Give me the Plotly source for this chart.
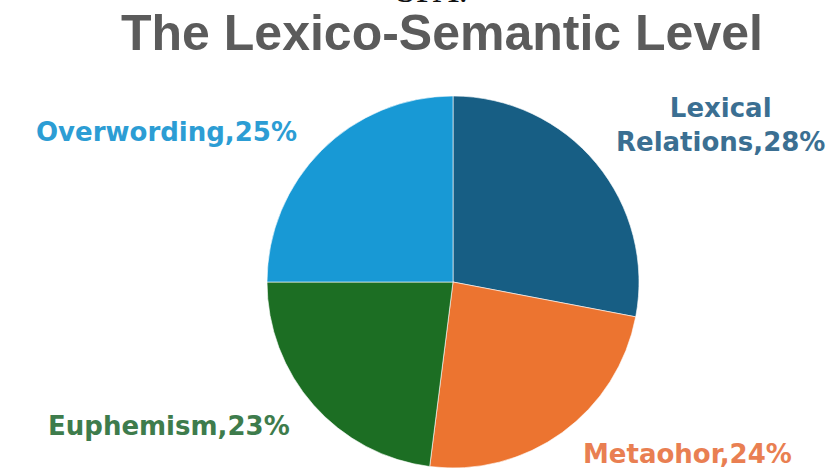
import plotly.graph_objects as go

categories = ["Lexical Relations", "Metaohor", "Euphemism", "Overwording"]
values = [28, 24, 23, 25]
slice_colors = ["#175e84", "#ec7430", "#1c6e23", "#1899d5"]
label_colors = ["#3b6f92", "#e97f52", "#3e7c4c", "#2c9dd4"]
label_texts = ["Lexical<br>Relations,28%", "Metaohor,24%", "Euphemism,23%", "Overwording,25%"]

W, H = 831, 470

def px(x):
    return x / W

def py(y):
    return 1 - y / H

fig = go.Figure()
fig.add_trace(go.Pie(
    labels=categories,
    values=values,
    sort=False,
    direction="clockwise",
    rotation=0,
    marker=dict(colors=slice_colors, line=dict(color="rgba(255,255,255,0.6)", width=1)),
    textinfo="none",
    hoverinfo="label+percent",
    showlegend=False,
    domain=dict(x=[px(267), px(639)], y=[py(468), py(96)]),
))

# label positions (pixel centres)
label_pos = [(720, 125), (687, 454), (169, 426), (166, 132)]
for txt, col, (lx, ly) in zip(label_texts, label_colors, label_pos):
    fig.add_annotation(
        text=txt, x=px(lx), y=py(ly), xref="paper", yref="paper",
        xanchor="center", yanchor="middle", showarrow=False, align="center",
        font=dict(family="DejaVu Sans", size=26, color=col, weight="bold"),
    )

fig.add_annotation(
    text="The Lexico-Semantic Level", x=px(442), y=py(33), xref="paper", yref="paper",
    xanchor="center", yanchor="middle", showarrow=False,
    font=dict(family="Liberation Sans", size=50, color="#5b5b5b", weight="bold"),
)
fig.add_annotation(
    text="SPA.", x=px(432), y=py(12), xref="paper", yref="paper",
    xanchor="center", yanchor="bottom", showarrow=False,
    font=dict(family="Liberation Serif", size=36, color="#111111"),
)

fig.update_layout(
    width=W, height=H,
    margin=dict(l=0, r=0, t=0, b=0),
    paper_bgcolor="white", plot_bgcolor="white",
)

fig.write_html("out.html", config={"displayModeBar": False},
               post_script="document.body.style.margin='0px';")
